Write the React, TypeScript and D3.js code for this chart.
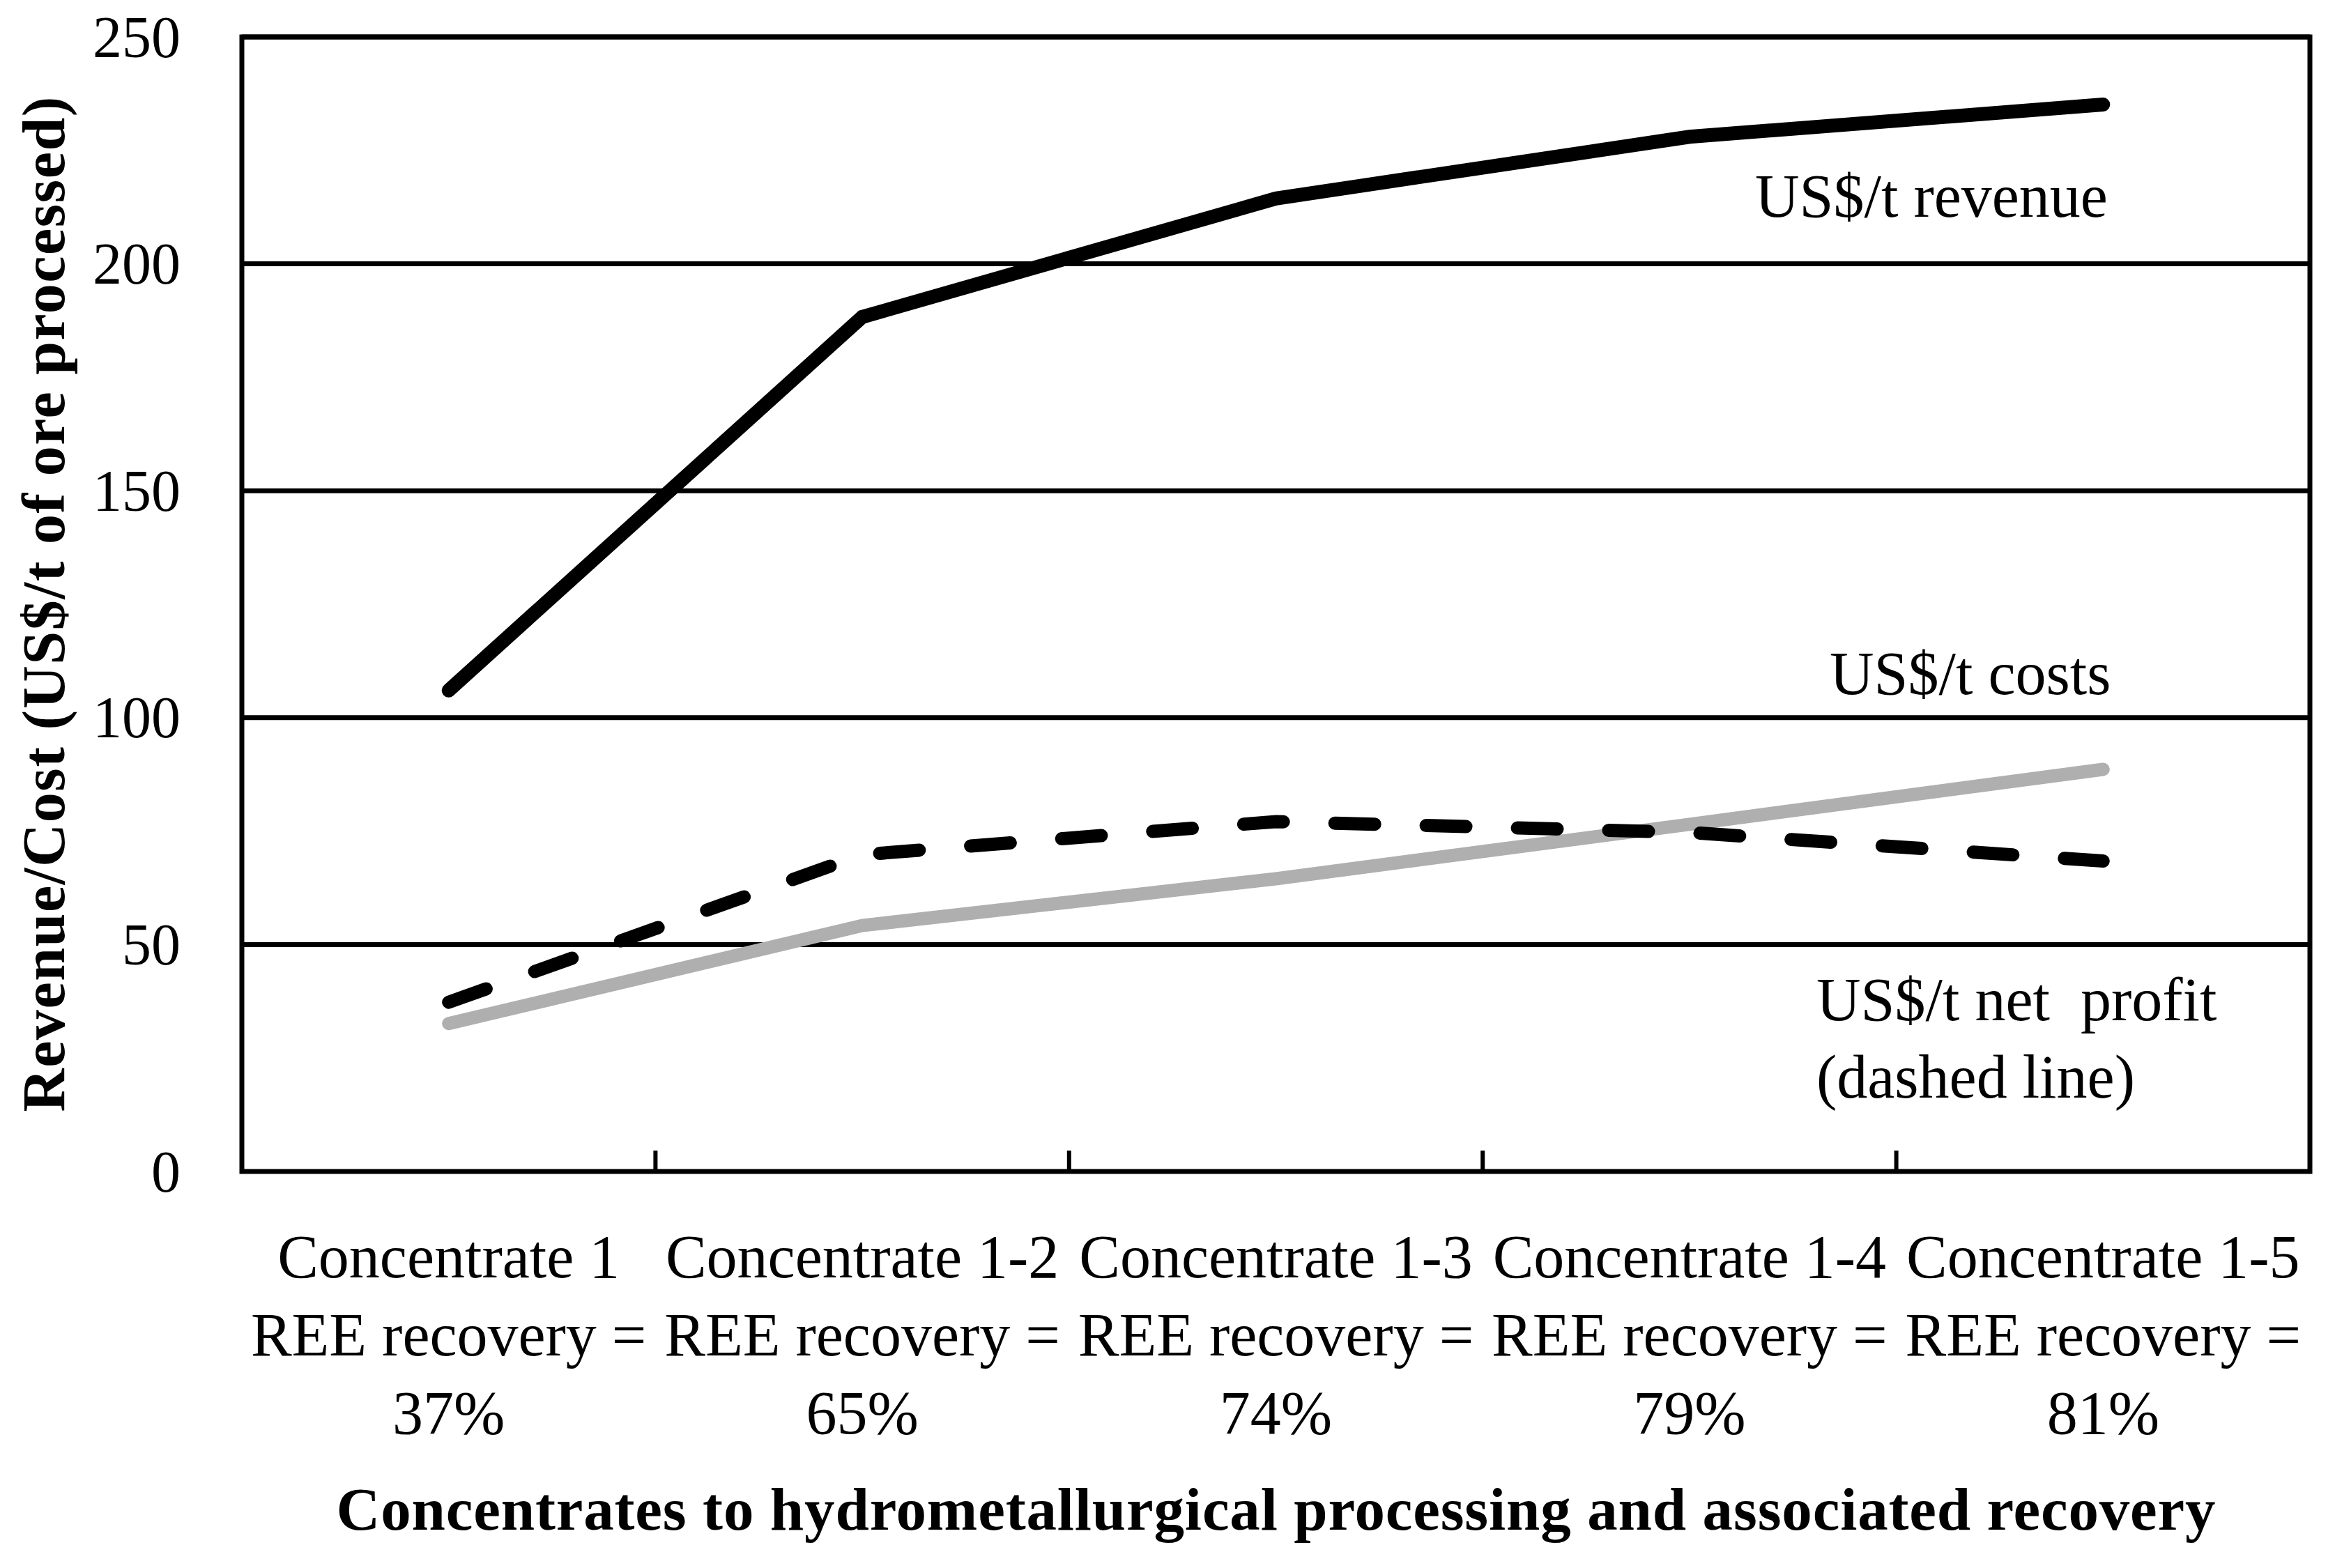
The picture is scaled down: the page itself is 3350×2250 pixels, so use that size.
import { useRef, useEffect } from 'react';
import * as d3 from 'd3';

// Categories along the x axis (three text lines each)
const CATEGORIES = ['Concentrate 1', 'Concentrate 1-2', 'Concentrate 1-3', 'Concentrate 1-4', 'Concentrate 1-5'];
const RECOVERY = ['37%', '65%', '74%', '79%', '81%'];

// US$/t of ore processed
const REVENUE = [106.0, 188.3, 214.4, 228.0, 235.1];
const COSTS = [32.6, 54.2, 64.5, 76.5, 88.6];
const NET_PROFIT = [37.3, 69.8, 77.1, 74.7, 68.4];

const Y_TICKS = [0, 50, 100, 150, 200, 250];

export default function App() {
  const ref = useRef<SVGSVGElement>(null);

  useEffect(() => {
    const svg = ref.current;
    if (!svg) return;
    const W = 3350, H = 2250;
    const left = 347, right = 3314, top = 53, bottom = 1681;
    const font = '"Liberation Serif", "Times New Roman", serif';

    d3.select(svg).selectAll('*').remove();
    const g = d3.select(svg).attr('viewBox', `0 0 ${W} ${H}`).append('g');

    const x = d3.scaleBand<string>().domain(CATEGORIES).range([left, right]);
    const cx = (i: number) => (x(CATEGORIES[i]) ?? 0) + x.bandwidth() / 2;
    const y = d3.scaleLinear().domain([0, 250]).range([bottom, top]);

    // Gridlines
    Y_TICKS.filter((v) => v > 0).forEach((v) => {
      g.append('line')
        .attr('x1', left).attr('x2', right).attr('y1', y(v)).attr('y2', y(v))
        .attr('stroke', '#000').attr('stroke-width', 7);
    });

    // Plot frame
    g.append('rect')
      .attr('x', left).attr('y', top).attr('width', right - left).attr('height', bottom - top)
      .attr('fill', 'none').attr('stroke', '#000').attr('stroke-width', 7);

    // Inner ticks at category boundaries
    CATEGORIES.slice(1).forEach((c) => {
      const tx = x(c) ?? 0;
      g.append('line')
        .attr('x1', tx).attr('x2', tx).attr('y1', bottom).attr('y2', bottom - 30)
        .attr('stroke', '#000').attr('stroke-width', 6);
    });

    // Y tick labels
    Y_TICKS.forEach((v) => {
      g.append('text')
        .attr('x', 259).attr('y', y(v)).attr('dy', '0.34em')
        .attr('text-anchor', 'end').attr('font-family', font).attr('font-size', 84)
        .text(v);
    });

    // X category labels
    CATEGORIES.forEach((c, i) => {
      const lines = [c, 'REE recovery =', RECOVERY[i]];
      lines.forEach((t, k) => {
        g.append('text')
          .attr('x', cx(i)).attr('y', 1833 + k * 112)
          .attr('text-anchor', 'middle').attr('font-family', font).attr('font-size', 88)
          .text(t);
      });
    });

    // Axis titles
    g.append('text')
      .attr('x', (left + right) / 2).attr('y', 2195)
      .attr('text-anchor', 'middle').attr('font-family', font).attr('font-size', 87).attr('font-weight', 'bold')
      .attr('textLength', 2696).attr('lengthAdjust', 'spacing')
      .text('Concentrates to hydrometallurgical processing and associated recovery');
    g.append('text')
      .attr('transform', `translate(92,${(top + bottom) / 2}) rotate(-90)`)
      .attr('text-anchor', 'middle').attr('font-family', font).attr('font-size', 86).attr('font-weight', 'bold')
      .attr('textLength', 1457).attr('lengthAdjust', 'spacing')
      .text('Revenue/Cost (US$/t of ore processed)');

    const line = d3.line<number>().x((_, i) => cx(i)).y((d) => y(d));

    // Costs (grey)
    g.append('path').datum(COSTS).attr('d', line)
      .attr('fill', 'none').attr('stroke', '#afafaf').attr('stroke-width', 19)
      .attr('stroke-linecap', 'round');

    // Net profit (dashed)
    g.append('path').datum(NET_PROFIT).attr('d', line)
      .attr('fill', 'none').attr('stroke', '#000').attr('stroke-width', 19)
      .attr('stroke-linecap', 'round').attr('stroke-dasharray', '57,74');

    // Revenue
    g.append('path').datum(REVENUE).attr('d', line)
      .attr('fill', 'none').attr('stroke', '#000').attr('stroke-width', 20)
      .attr('stroke-linecap', 'round');

    // Series annotations
    const notes = [
      { t: 'US$/t revenue', x: 2518, y: 311 },
      { t: 'US$/t costs', x: 2625, y: 996 },
      { t: 'US$/t net  profit', x: 2606, y: 1464 },
      { t: '(dashed line)', x: 2606, y: 1575 },
    ];
    notes.forEach((n) => {
      g.append('text')
        .attr('x', n.x).attr('y', n.y).attr('font-family', font).attr('font-size', 88)
        .style('white-space', 'pre')
        .text(n.t);
    });
  }, []);

  return (
    <div>
      <style>{'body{margin:0;background:#fff}'}</style>
      <svg ref={ref} width={3350} height={2250} style={{ display: 'block', background: '#fff' }} />
    </div>
  );
}
